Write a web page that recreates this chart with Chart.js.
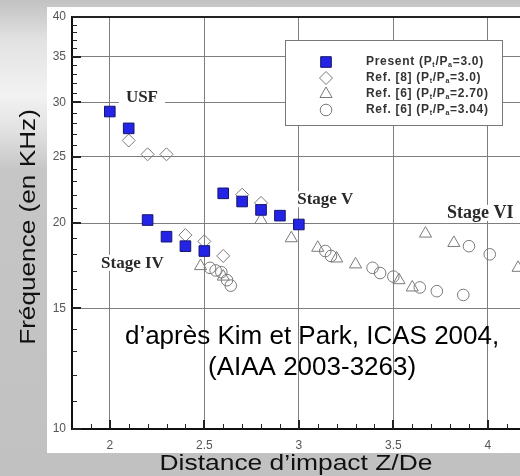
<!DOCTYPE html>
<html>
<head>
<meta charset="utf-8">
<script src="https://cdn.jsdelivr.net/npm/chart.js@4.4.1/dist/chart.umd.min.js"></script>
<style>
  html, body { margin: 0; padding: 0; }
  body {
    width: 520px; height: 476px; position: relative; overflow: hidden;
    background: linear-gradient(to bottom, #c2c2c2 0px, #c8c8c8 8px, #e2e2e2 40px, #f2f2f2 95px, #e2e2e2 130px, #c6c6c6 170px, #c1c1c1 100%);
  }
  #panel { position: absolute; left: 47px; top: 7px; width: 473px; height: 446px; background: #fff; }
  #chart { position: absolute; left: 0; top: 0; }
</style>
</head>
<body>
<div id="panel"></div>
<canvas id="chart" width="520" height="476"></canvas>
<script>
// Z/De, frequency in kHz
const presentX = [2.0, 2.1, 2.2, 2.3, 2.4, 2.5, 2.6, 2.7, 2.8, 2.9, 3.0]
const presentY = [29.1, 27.5, 20.2, 19.1, 18.5, 18.2, 22.1, 21.5, 20.9, 20.5, 19.9]

const ref8X = [2.1, 2.2, 2.3, 2.4, 2.5, 2.6, 2.7, 2.8]
const ref8Y = [26.4, 25.2, 25.2, 19.2, 18.8, 17.9, 22.0, 21.4]

const ref6aX = [2.48, 2.6, 2.8, 2.96, 3.1, 3.2, 3.3, 3.53, 3.6, 3.67, 3.82, 4.16]
const ref6aY = [17.3, 16.7, 20.2, 19.0, 18.4, 17.75, 17.4, 16.5, 16.1, 19.3, 18.7, 17.2]

const ref6bX = [2.53, 2.56, 2.59, 2.62, 2.64, 3.14, 3.17, 3.39, 3.43, 3.5, 3.64, 3.73, 3.87, 3.9, 4.01]
const ref6bY = [17.2, 17.05, 16.95, 16.5, 16.2, 18.2, 17.9, 17.2, 16.9, 16.7, 16.1, 15.9, 15.7, 18.5, 18.0]

const xTicks = [2, 2.5, 3, 3.5, 4]
const yTicks = [10, 15, 20, 25, 30, 35, 40]

const xTitle = 'Distance d\u2019impact Z/De'
const yTitle = 'Fr\u00e9quence (en KHz)'

const seriesLabels = [
  'Present (P{t}/P{a}=3.0)',
  'Ref. [8] (P{t}/P{a}=3.0)',
  'Ref. [6] (P{t}/P{a}=2.70)',
  'Ref. [6] (P{t}/P{a}=3.04)',
]

const notes = [
  { text: 'USF', x: 2.17, y: 30, font: 'bold 17px "Liberation Serif"', pad: 7 },
  { text: 'Stage IV', x: 2.12, y: 17.2, font: 'bold 17px "Liberation Serif"', pad: 2 },
  { text: 'Stage V', x: 3.14, y: 21.3, font: 'bold 17px "Liberation Serif"', pad: 2 },
  { text: 'Stage VI', x: 3.96, y: 20.35, font: 'bold 18px "Liberation Serif"', pad: 0 },
  { text: 'd\u2019apr\u00e8s Kim et Park, ICAS 2004,', x: 3.07, y: 13.3, font: '26px "Liberation Sans"' },
  { text: '(AIAA 2003-3263)', x: 3.07, y: 12.0, font: '26px "Liberation Sans"' },
]

const toPts = (xs, ys) => xs.map((x, i) => ({ x, y: ys[i] }))

const hollow = {
  backgroundColor: 'rgba(0,0,0,0)',
  borderColor: '#7a7a7a',
  borderWidth: 1,
}

const xMinor = []
for (let i = 19; i <= 41; i++) if (i % 5) xMinor.push(i / 10)
const yMinor = []
for (let v = 11; v < 40; v++) if (v % 5) yMinor.push(v)

const tickMarks = {
  id: 'tickMarks',
  beforeDatasetsDraw(chart) {
    const { ctx, chartArea: a, scales: { x, y } } = chart
    ctx.save()
    ctx.strokeStyle = '#222'
    ctx.lineWidth = 1
    ctx.beginPath()
    xMinor.forEach((v) => {
      const px = Math.round(x.getPixelForValue(v)) + 0.5
      ctx.moveTo(px, a.bottom)
      ctx.lineTo(px, a.bottom - 5)
    })
    yMinor.forEach((v) => {
      const py = Math.round(y.getPixelForValue(v)) + 0.5
      ctx.moveTo(a.left, py)
      ctx.lineTo(a.left + 5, py)
    })
    ctx.stroke()
    ctx.lineWidth = 2
    ctx.beginPath()
    xTicks.forEach((v) => {
      const px = Math.round(x.getPixelForValue(v))
      ctx.moveTo(px, a.bottom)
      ctx.lineTo(px, a.bottom - 9)
    })
    yTicks.forEach((v) => {
      const py = Math.round(y.getPixelForValue(v))
      ctx.moveTo(a.left, py)
      ctx.lineTo(a.left + 9, py)
    })
    ctx.stroke()
    // top frame line
    ctx.beginPath()
    ctx.moveTo(a.left, a.top)
    ctx.lineTo(a.right, a.top)
    ctx.stroke()
    ctx.restore()
  },
}

const noteLabels = {
  id: 'noteLabels',
  afterDatasetsDraw(chart) {
    const { ctx, scales: { x, y } } = chart
    ctx.save()
    ctx.textAlign = 'center'
    ctx.textBaseline = 'alphabetic'
    notes.forEach((n) => {
      const px = x.getPixelForValue(n.x)
      const py = y.getPixelForValue(n.y)
      ctx.font = n.font
      if (n.pad !== undefined) {
        const w = ctx.measureText(n.text).width
        ctx.fillStyle = '#fff'
        ctx.fillRect(px - w / 2 - n.pad, py - 13, w + n.pad * 2, 16)
        ctx.fillStyle = '#2a2a2a'
      } else {
        ctx.fillStyle = '#000'
      }
      ctx.fillText(n.text, px, py)
    })
    ctx.restore()
  },
}

// axis titles, drawn a bit wide like the slide text
const axisTitles = {
  id: 'axisTitles',
  afterDraw(chart) {
    const { ctx, scales: { x, y } } = chart
    ctx.save()
    ctx.fillStyle = '#111'
    ctx.font = '22px "Liberation Sans"'
    ctx.textAlign = 'center'
    ctx.textBaseline = 'alphabetic'
    ctx.save()
    ctx.translate((x.left + x.right) / 2, chart.height - 6)
    ctx.scale(1.2, 1)
    ctx.fillText(xTitle, 0, 0)
    ctx.restore()
    ctx.save()
    ctx.translate(35, (y.top + y.bottom) / 2 + 4)
    ctx.rotate(-Math.PI / 2)
    ctx.scale(1.19, 1)
    ctx.fillText(yTitle, 0, 0)
    ctx.restore()
    ctx.restore()
  },
}

function drawRich(ctx, str, x, y) {
  ctx.letterSpacing = '0.7px'
  str.split(/(\{[^}]*\})/).forEach((p) => {
    if (!p) return
    if (p[0] === '{') {
      const t = p.slice(1, -1)
      ctx.font = 'bold 7px "Liberation Sans"'
      ctx.fillText(t, x, y + 3)
      x += ctx.measureText(t).width
    } else {
      ctx.font = 'bold 12px "Liberation Sans"'
      ctx.fillText(p, x, y)
      x += ctx.measureText(p).width
    }
  })
  ctx.letterSpacing = '0px'
}

const boxLegend = {
  id: 'boxLegend',
  afterDraw(chart) {
    const { ctx } = chart
    ctx.save()
    ctx.fillStyle = '#fff'
    ctx.fillRect(285, 40, 217, 85)
    ctx.strokeStyle = '#777'
    ctx.lineWidth = 1
    ctx.strokeRect(285.5, 40.5, 217, 85)
    chart.data.datasets.forEach((ds, i) => {
      const cy = 62 + i * 16
      ctx.fillStyle = ds.backgroundColor
      ctx.strokeStyle = ds.borderColor
      ctx.lineWidth = ds.borderWidth
      Chart.helpers.drawPoint(ctx, {
        pointStyle: ds.pointStyle,
        radius: ds.pointRadius,
        rotation: 0,
        borderWidth: ds.borderWidth,
      }, 326, cy)
      ctx.fillStyle = '#333'
      ctx.textBaseline = 'middle'
      drawRich(ctx, ds.label, 366, cy)
    })
    ctx.restore()
  },
}

new Chart(document.getElementById('chart'), {
  type: 'scatter',
  data: {
    datasets: [
      {
        label: seriesLabels[0],
        data: toPts(presentX, presentY),
        pointStyle: 'rect',
        pointRadius: 7.5,
        backgroundColor: '#2424e6',
        borderColor: '#16166e',
        borderWidth: 1,
      },
      { label: seriesLabels[1], data: toPts(ref8X, ref8Y), pointStyle: 'rectRot', pointRadius: 6.5, ...hollow },
      { label: seriesLabels[2], data: toPts(ref6aX, ref6aY), pointStyle: 'triangle', pointRadius: 7, ...hollow },
      { label: seriesLabels[3], data: toPts(ref6bX, ref6bY), pointStyle: 'circle', pointRadius: 5.8, ...hollow },
    ],
  },
  options: {
    responsive: false,
    animation: false,
    events: [],
    layout: { autoPadding: false, padding: { top: 17, right: 0, left: 0, bottom: 0 } },
    plugins: { legend: { display: false }, tooltip: { enabled: false } },
    scales: {
      x: {
        type: 'linear',
        min: 1.8,
        max: 4.17,
        afterBuildTicks: (s) => { s.ticks = xTicks.map((v) => ({ value: v })) },
        afterFit: (s) => { s.height = 47 },
        ticks: {
          callback: (v) => String(v),
          color: '#555',
          font: { family: 'Liberation Sans', size: 12 },
          padding: 9,
          maxRotation: 0,
        },
        grid: { color: '#7e7e7e', lineWidth: 1, drawTicks: false },
        border: { color: '#111', width: 2 },
      },
      y: {
        type: 'logarithmic',
        min: 10,
        max: 40,
        afterBuildTicks: (s) => { s.ticks = yTicks.map((v) => ({ value: v })) },
        afterFit: (s) => { s.width = 72 },
        ticks: {
          callback: (v) => String(v),
          color: '#555',
          font: { family: 'Liberation Sans', size: 12 },
          padding: 6,
        },
        grid: { color: '#7e7e7e', lineWidth: 1, drawTicks: false },
        border: { color: '#111', width: 2 },
      },
    },
  },
  plugins: [tickMarks, noteLabels, axisTitles, boxLegend],
})
</script>
</body>
</html>
